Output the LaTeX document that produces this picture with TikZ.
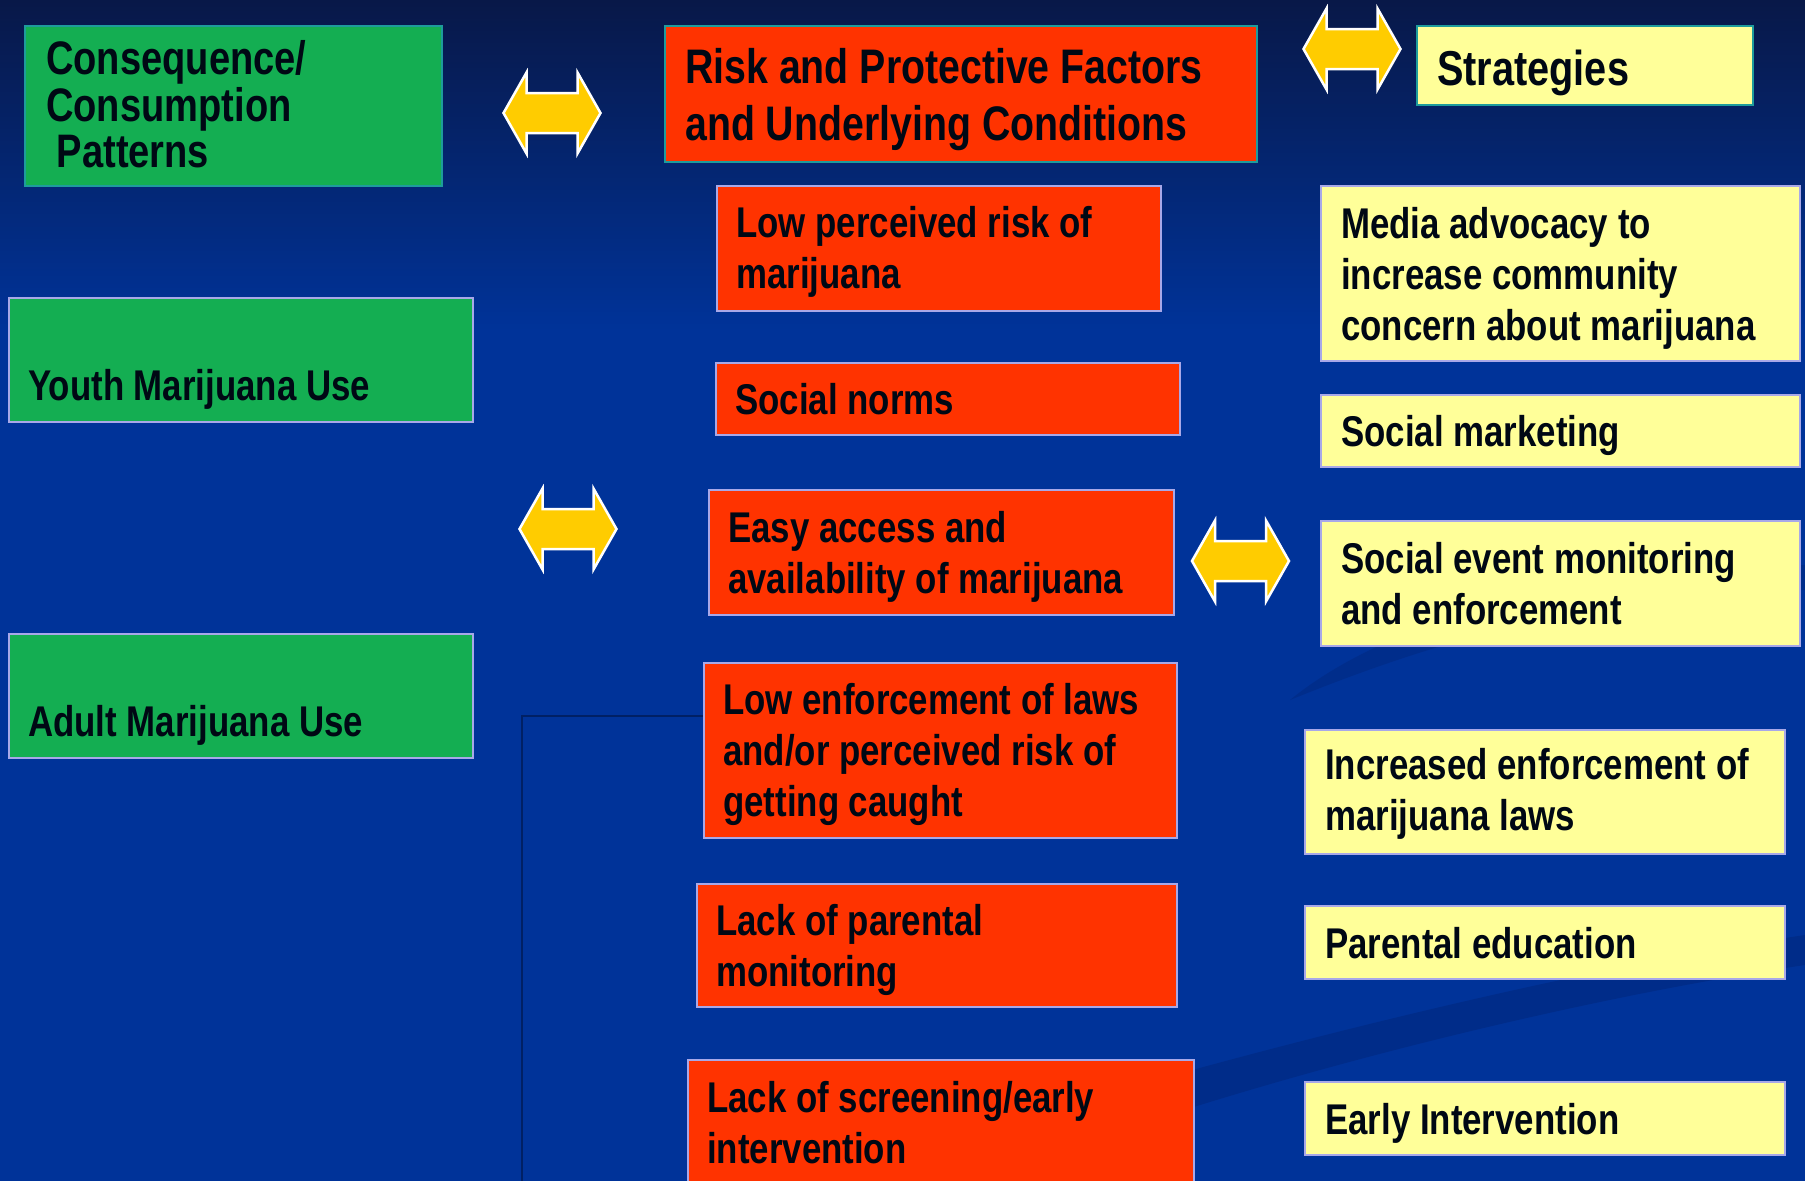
\documentclass[tikz,border=0pt]{standalone}
\usepackage{fontspec}
\newfontfamily\slidefont{Liberation Sans}[FakeStretch=0.81]

\definecolor{bgtop}{HTML}{081848}
\definecolor{bgblue}{HTML}{003399}
\definecolor{bgswoosh}{HTML}{00287F}
\definecolor{boxgreen}{HTML}{14AE52}
\definecolor{boxred}{HTML}{FF3300}
\definecolor{boxyellow}{HTML}{FFFF99}
\definecolor{edgeteal}{HTML}{1E9C9C}
\definecolor{edgelilac}{HTML}{A8A8E8}
\definecolor{arrowgold}{HTML}{FFCC00}
\definecolor{inkblack}{HTML}{000814}

% lines of a box, baseline on the first one
\newcommand\boxlines[1]{\begin{tabular}[t]{@{}l@{}}#1\end{tabular}}

\tikzset{
  box/.style={anchor=north west, inner sep=0pt, line width=2pt, draw=edgelilac},
  greenbox/.style={box, fill=boxgreen},
  redbox/.style={box, fill=boxred},
  yellowbox/.style={box, fill=boxyellow},
  headbox/.style={draw=edgeteal},
  boxtext/.style={anchor=base west, inner sep=0pt, text=inkblack,
    font=\slidefont\bfseries\fontsize{43}{51}\selectfont},
  headtext/.style={boxtext, font=\slidefont\bfseries\fontsize{48.5}{57}\selectfont},
  dblarrow/.pic={
    \draw[white, line width=2.5pt, fill=arrowgold]
      (-48.5,0) -- (-25.5,-40.5) -- (-25.5,-20) -- (25.5,-20) -- (25.5,-40.5)
      -- (48.5,0) -- (25.5,40.5) -- (25.5,20) -- (-25.5,20) -- (-25.5,40.5) -- cycle;
  }
}

\begin{document}
\begin{tikzpicture}[x=1pt,y=-1pt]
    \useasboundingbox (0,0) rectangle (1805,1181);

    % slide background
    \fill[top color=bgtop, bottom color=bgblue] (0,0) rectangle (1805,330);
    \fill[bgblue] (0,329) rectangle (1805,1181);
    \fill[bgswoosh, opacity=.6] (1000,1125) .. controls (1300,1035) and (1600,965) .. (1805,935)
        -- (1805,965) .. controls (1600,995) and (1300,1065) .. (1050,1155) -- cycle;
    \fill[bgswoosh, opacity=.5] (1290,700) .. controls (1400,610) and (1600,570) .. (1805,565)
        -- (1805,590) .. controls (1600,595) and (1450,635) .. (1290,700) -- cycle;
    \draw[bgswoosh!80!black, line width=1.5pt] (522,1181) -- (522,716) -- (703,716);

    % consequences
    \node[greenbox, headbox, minimum width=417pt, minimum height=160pt] (cons) at (24,25) {};
    \node[boxtext, font=\slidefont\bfseries\fontsize{47}{46}\selectfont] (cons-t)
        at ([shift={(22,49)}]cons.north west) {\boxlines{Consequence/\\Consumption\\\ Patterns}};
    \node[greenbox, minimum width=464pt, minimum height=124pt] (youth) at (8,297) {};
    \node[boxtext] (youth-t) at ([shift={(20,103)}]youth.north west) {Youth Marijuana Use};
    \node[greenbox, minimum width=464pt, minimum height=124pt] (adult) at (8,633) {};
    \node[boxtext] (adult-t) at ([shift={(20,103)}]adult.north west) {Adult Marijuana Use};

    % risk and protective factors
    \node[redbox, headbox, minimum width=592pt, minimum height=136pt] (risk) at (664,25) {};
    \node[headtext] (risk-t) at ([shift={(21,58)}]risk.north west)
        {\boxlines{Risk and Protective Factors\\and Underlying Conditions}};
    \node[redbox, minimum width=444pt, minimum height=125pt] (lowrisk) at (716,185) {};
    \node[boxtext] (lowrisk-t) at ([shift={(20,52)}]lowrisk.north west)
        {\boxlines{Low perceived risk of\\marijuana}};
    \node[redbox, minimum width=464pt, minimum height=72pt] (norms) at (715,362) {};
    \node[boxtext] (norms-t) at ([shift={(20,52)}]norms.north west) {Social norms};
    \node[redbox, minimum width=465pt, minimum height=125pt] (access) at (708,489) {};
    \node[boxtext] (access-t) at ([shift={(20,53)}]access.north west)
        {\boxlines{Easy access and\\availability of marijuana}};
    \node[redbox, minimum width=473pt, minimum height=175pt] (lowlaw) at (703,662) {};
    \node[boxtext] (lowlaw-t) at ([shift={(20,52)}]lowlaw.north west)
        {\boxlines{Low enforcement of laws\\and/or perceived risk of\\getting caught}};
    \node[redbox, minimum width=480pt, minimum height=123pt] (parent) at (696,883) {};
    \node[boxtext] (parent-t) at ([shift={(20,52)}]parent.north west)
        {\boxlines{Lack of parental\\monitoring}};
    \node[redbox, minimum width=506pt, minimum height=130pt] (screen) at (687,1059) {};
    \node[boxtext] (screen-t) at ([shift={(20,53)}]screen.north west)
        {\boxlines{Lack of screening/early\\intervention}};

    % strategies
    \node[yellowbox, headbox, minimum width=336pt, minimum height=79pt] (strat) at (1416,25) {};
    \node[boxtext, font=\slidefont\bfseries\fontsize{49}{57}\selectfont] (strat-t)
        at ([shift={(21,60)}]strat.north west) {Strategies};
    \node[yellowbox, minimum width=479pt, minimum height=175pt] (media) at (1320,185) {};
    \node[boxtext] (media-t) at ([shift={(21,53)}]media.north west)
        {\boxlines{Media advocacy to\\increase community\\concern about marijuana}};
    \node[yellowbox, minimum width=479pt, minimum height=72pt] (market) at (1320,394) {};
    \node[boxtext] (market-t) at ([shift={(21,52)}]market.north west) {Social marketing};
    \node[yellowbox, minimum width=479pt, minimum height=125pt] (event) at (1320,520) {};
    \node[boxtext] (event-t) at ([shift={(21,53)}]event.north west)
        {\boxlines{Social event monitoring\\and enforcement}};
    \node[yellowbox, minimum width=480pt, minimum height=124pt] (incr) at (1304,729) {};
    \node[boxtext] (incr-t) at ([shift={(21,50)}]incr.north west)
        {\boxlines{Increased enforcement of\\marijuana laws}};
    \node[yellowbox, minimum width=480pt, minimum height=73pt] (paredu) at (1304,905) {};
    \node[boxtext] (paredu-t) at ([shift={(21,53)}]paredu.north west) {Parental education};
    \node[yellowbox, minimum width=480pt, minimum height=73pt] (early) at (1304,1081) {};
    \node[boxtext] (early-t) at ([shift={(21,53)}]early.north west) {Early Intervention};

    % double arrows
    \pic at (552,113) {dblarrow};
    \pic at (1352,49) {dblarrow};
    \pic at (568,529) {dblarrow};
    \pic at (1240.5,561) {dblarrow};

\end{tikzpicture}
\end{document}
